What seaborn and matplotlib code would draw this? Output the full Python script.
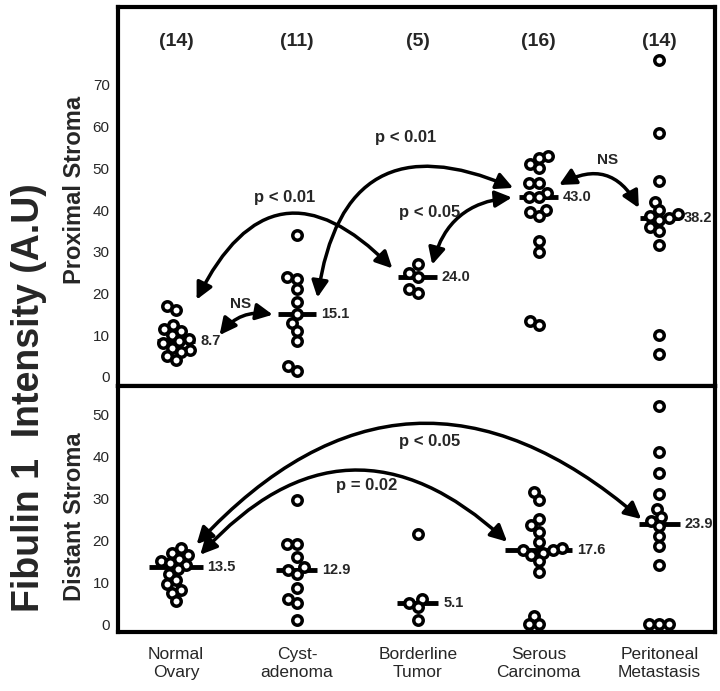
import numpy as np
import pandas as pd
import matplotlib
matplotlib.use("Agg")
import matplotlib.pyplot as plt
import matplotlib.transforms as mtransforms
import seaborn as sns

groups = ["Normal\nOvary", "Cyst-\nadenoma", "Borderline\nTumor", "Serous\nCarcinoma", "Peritoneal\nMetastasis"]
counts = ["(14)", "(11)", "(5)", "(16)", "(14)"]

# proximal stroma (top panel)
prox_normal = [17, 16, 12.5, 11.5, 11, 10, 9, 8.5, 8, 7, 6.5, 6, 5, 4]
prox_cyst = [34, 24, 23.5, 21, 18, 15.1, 13, 11, 8.5, 2.5, 1.5]
prox_border = [27, 25, 24, 21, 20]
prox_serous = [53, 52.5, 51, 50, 46.5, 46.5, 44, 43, 43, 40, 39.5, 38.5, 32.5, 30, 13.5, 12.5]
prox_perit = [76, 58.5, 47, 42, 40, 39, 38.5, 38, 37.5, 36, 35, 31.5, 10, 5.5]
prox_medians = [8.7, 15.1, 24.0, 43.0, 38.2]

# distant stroma (bottom panel)
dist_normal = [18, 17, 16.5, 15.5, 15, 14.5, 14, 13, 12, 10.5, 9.5, 8, 7.5, 5.5]
dist_cyst = [29.5, 19, 19, 16, 13.5, 12.9, 12, 8.5, 6, 5, 1]
dist_border = [21.5, 6, 5.1, 4, 1]
dist_serous = [31.5, 29.5, 25, 23.5, 22, 19.5, 18, 17.6, 17.6, 17, 16.5, 15, 12.5, 2, 0, 0]
dist_perit = [52, 41, 36, 31, 27.5, 25.5, 24.5, 23.3, 21, 18.5, 14, 0, 0, 0]
dist_medians = [13.5, 12.9, 5.1, 17.6, 23.9]

prox_halfw = [0.16, 0.16, 0.16, 0.16, 0.16]
dist_halfw = [0.22, 0.17, 0.17, 0.28, 0.17]


def make_df(lists):
    rows = []
    for g, vals in zip(groups, lists):
        for v in vals:
            rows.append({"group": g, "value": v})
    return pd.DataFrame(rows)


prox_df = make_df([prox_normal, prox_cyst, prox_border, prox_serous, prox_perit])
dist_df = make_df([dist_normal, dist_cyst, dist_border, dist_serous, dist_perit])

sns.set_style("white")
plt.rcParams["font.family"] = ["Liberation Sans", "DejaVu Sans"]
narrow = ["Liberation Sans Narrow", "Liberation Sans", "DejaVu Sans"]

fig = plt.figure(figsize=(7.2, 6.91), dpi=100)
ax_top = fig.add_axes([0.164, 0.4414, 0.829, 0.5486])
ax_bot = fig.add_axes([0.164, 0.0854, 0.829, 0.356])

swarms = []


def draw_panel(ax, df, medians, halfw):
    n0 = len(ax.collections)
    # lay out the swarm with small markers so the clusters stay tight
    sns.swarmplot(data=df, x="group", y="value", order=groups, ax=ax,
                  color="white", edgecolor="black", linewidth=2.5, size=4.3)
    swarms.extend(ax.collections[n0:])
    for i, m in enumerate(medians):
        ax.hlines(m, i - halfw[i], i + halfw[i], color="black", lw=3.5, zorder=1)
        ax.text(i + halfw[i] + 0.04, m, f"{m:.1f}", va="center", ha="left",
                fontsize=10.5, fontweight="bold")
    ax.set_xlabel("")
    ax.set_ylabel("")
    ax.set_xlim(-0.48, 4.46)
    for s in ax.spines.values():
        s.set_linewidth(3)
        s.set_color("black")
    ax.tick_params(axis="y", direction="out", length=4, width=3, labelsize=11, pad=2)
    ax.tick_params(axis="x", direction="out", length=5, width=3, labelsize=12.5, pad=6)


def arc(ax, a, b, rad):
    ax.annotate("", xy=b, xytext=a,
                arrowprops=dict(arrowstyle="<|-|>,head_length=1.0,head_width=0.5",
                                connectionstyle=f"arc3,rad={rad}", lw=2.5,
                                color="black", shrinkA=0, shrinkB=0))


draw_panel(ax_top, prox_df, prox_medians, prox_halfw)
draw_panel(ax_bot, dist_df, dist_medians, dist_halfw)

ax_top.set_ylim(-2.2, 88.7)
ax_top.set_yticks(range(0, 80, 10))
ax_top.tick_params(axis="x", labelbottom=False)
ax_bot.set_ylim(-1.9, 56.7)
ax_bot.set_yticks(range(0, 60, 10))

# group sizes
trans = mtransforms.blended_transform_factory(ax_top.transData, ax_top.transAxes)
for i, c in enumerate(counts):
    ax_top.text(i, 0.908, c, transform=trans, ha="center", va="center",
                fontsize=14, fontweight="bold")

# comparisons, top panel
arc(ax_top, (0.36, 10), (0.80, 14.9), -0.3)
ax_top.text(0.53, 17.5, "NS", ha="center", va="center", fontsize=11, fontweight="bold")
arc(ax_top, (0.17, 18.5), (1.79, 26), -0.7)
ax_top.text(0.9, 43, "p < 0.01", ha="center", va="center", fontsize=12, fontweight="bold")
arc(ax_top, (1.17, 19), (2.79, 45.3), -0.65)
ax_top.text(1.9, 57.5, "p < 0.01", ha="center", va="center", fontsize=12, fontweight="bold")
arc(ax_top, (2.12, 26.9), (2.78, 43), -0.35)
ax_top.text(2.1, 39.5, "p < 0.05", ha="center", va="center", fontsize=12, fontweight="bold")
arc(ax_top, (3.17, 46), (3.83, 40.5), -0.5)
ax_top.text(3.57, 52, "NS", ha="center", va="center", fontsize=11, fontweight="bold")

# comparisons, bottom panel
arc(ax_bot, (0.17, 19), (3.85, 25), -0.48)
ax_bot.text(2.1, 43.5, "p < 0.05", ha="center", va="center", fontsize=12, fontweight="bold")
arc(ax_bot, (0.2, 16.5), (2.74, 19.6), -0.5)
ax_bot.text(1.58, 33, "p = 0.02", ha="center", va="center", fontsize=12, fontweight="bold")

fig.text(0.04, 0.424, "Fibulin 1  Intensity (A.U)", rotation=90, ha="center", va="center",
         fontsize=27, fontweight="bold", family=narrow)
fig.text(0.104, 0.725, "Proximal Stroma", rotation=90, ha="center", va="center",
         fontsize=17, fontweight="bold", family=narrow)
fig.text(0.104, 0.252, "Distant Stroma", rotation=90, ha="center", va="center",
         fontsize=17, fontweight="bold", family=narrow)

# fix the swarm positions, then draw the circles at full size
fig.canvas.draw()
for coll in swarms:
    if "draw" in vars(coll):
        del coll.draw
    coll.set_sizes([6.8 ** 2])

fig.savefig("out.png", dpi=100)
